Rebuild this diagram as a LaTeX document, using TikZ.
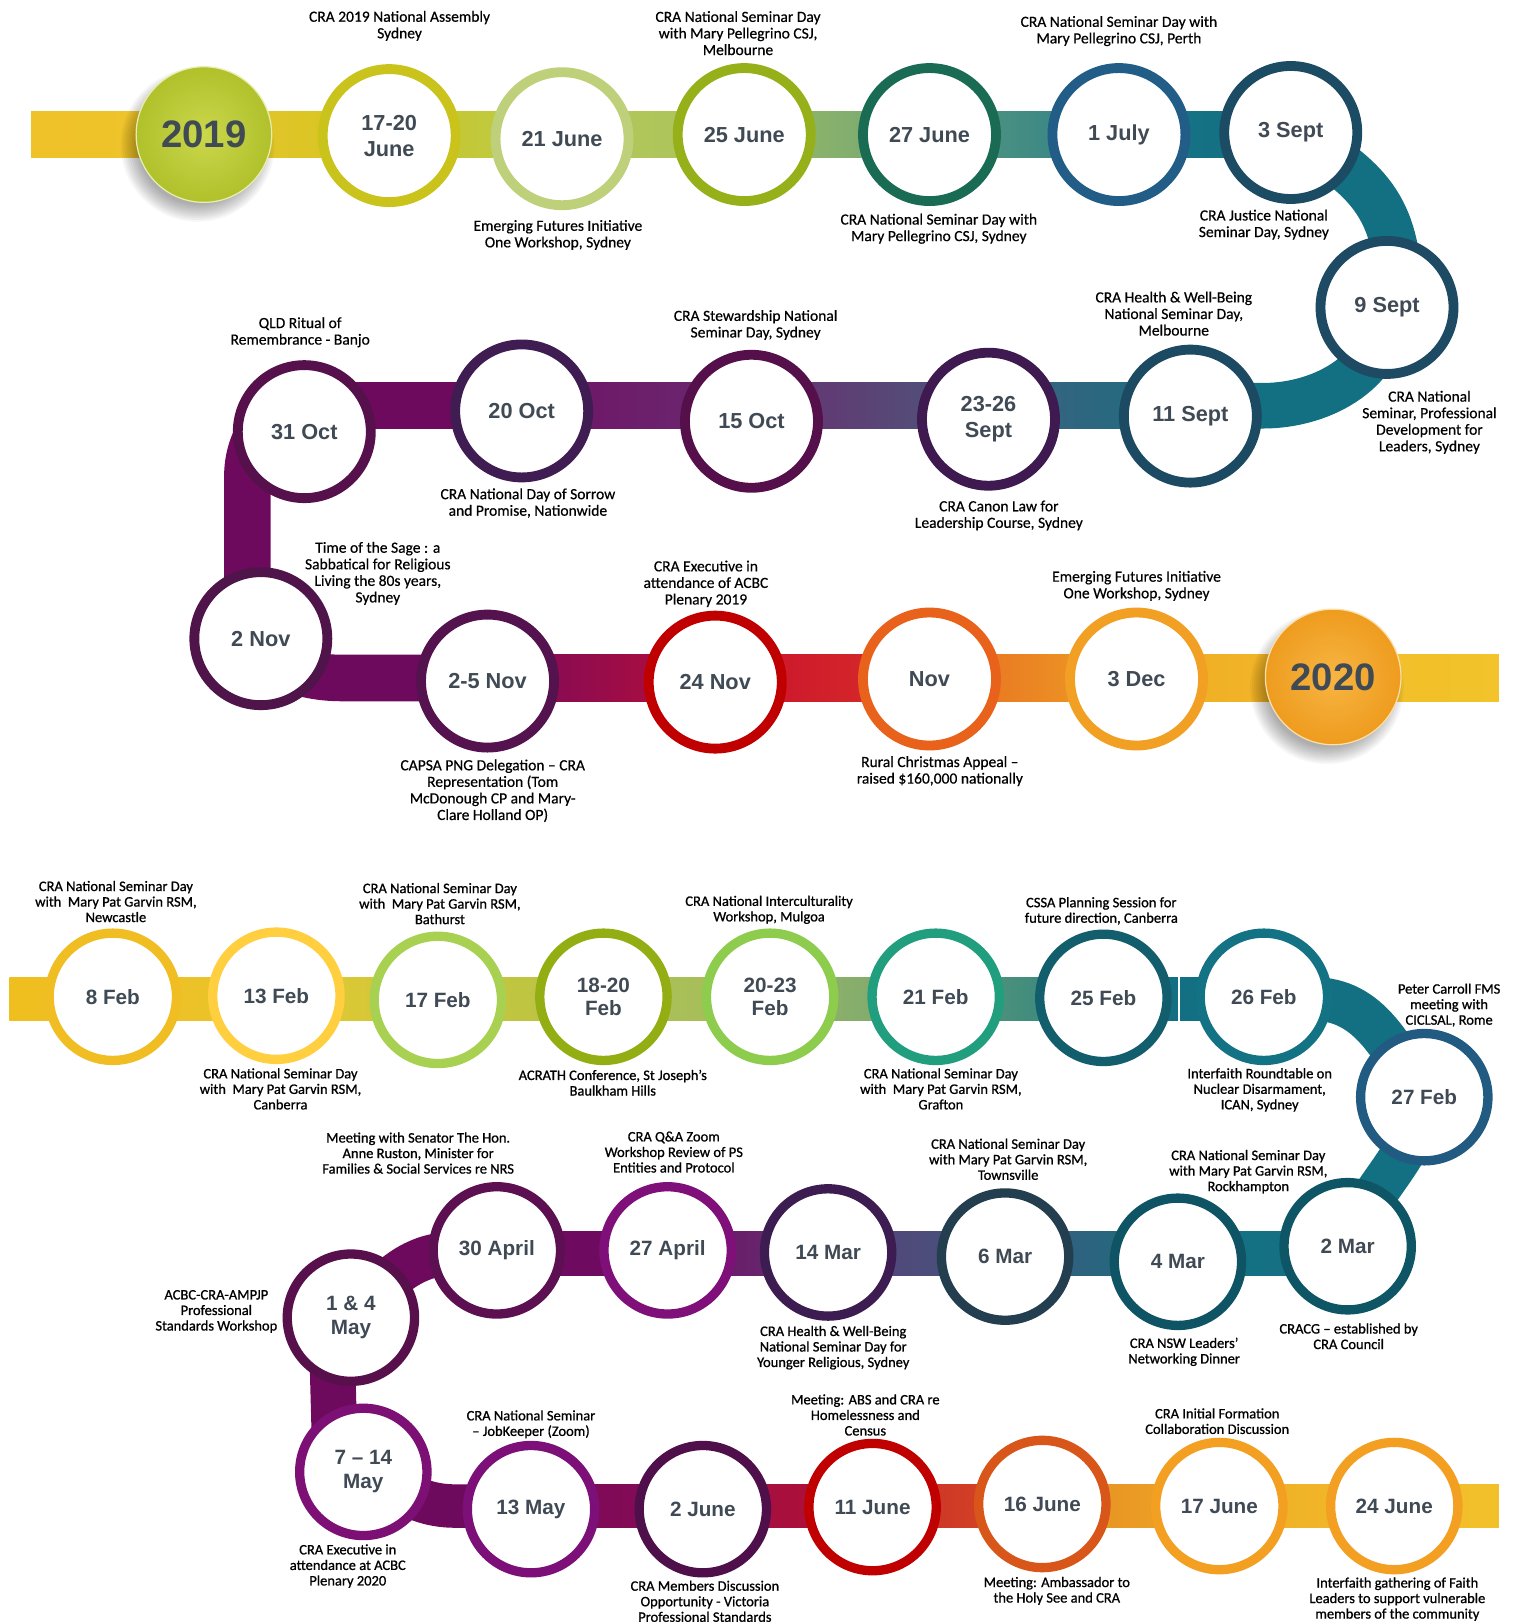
\documentclass[tikz,border=0pt]{standalone}
\usepackage{fontspec}
\usetikzlibrary{calc}
\pgfdeclarelayer{back}
\pgfdeclarelayer{bg}
\pgfsetlayers{back,bg,main}
\newfontfamily\capfam[FakeBold=0.5]{Carlito}
\newfontfamily\capfamb[FakeBold=0.9]{Carlito}
\newfontfamily\datefam{Liberation Sans}
\newcommand\capA{\capfam\fontsize{15}{16}\selectfont}
\newcommand\capB{\capfamb\fontsize{14}{15}\selectfont}
\newcommand\dateA{\datefam\bfseries\fontsize{21}{25}\selectfont}
\newcommand\dateB{\datefam\bfseries\fontsize{20}{23}\selectfont}
\newcommand\yearF{\datefam\bfseries\fontsize{37}{40}\selectfont}
\newcommand\tlseg[6]{\definecolor{tmpL}{HTML}{#4}\definecolor{tmpR}{HTML}{#5}%
  \shade[left color=tmpL,right color=tmpR] ($(#1 |- #3)+(0,#6)$) rectangle ($(#2 |- #3)+(0,-#6)$);}
\definecolor{datecol}{HTML}{404A55}
\definecolor{kyA}{HTML}{CAD74C}
\definecolor{kyB}{HTML}{B0C12B}
\definecolor{kzA}{HTML}{F7B543}
\definecolor{kzB}{HTML}{EE9C1E}
\definecolor{k1720}{HTML}{C9C31B}
\definecolor{k21jun}{HTML}{BED07A}
\definecolor{k25jun}{HTML}{96B01A}
\definecolor{k27jun}{HTML}{1A6B53}
\definecolor{k1jul}{HTML}{215D86}
\definecolor{k3sep}{HTML}{1C4B64}
\definecolor{k9sep}{HTML}{1E4A64}
\definecolor{k11sep}{HTML}{1C4A63}
\definecolor{k2326}{HTML}{3E1A50}
\definecolor{k15oct}{HTML}{55104C}
\definecolor{k20oct}{HTML}{3F1C52}
\definecolor{k31oct}{HTML}{56104C}
\definecolor{k2nov}{HTML}{4F1449}
\definecolor{k25nov}{HTML}{54124E}
\definecolor{k24nov}{HTML}{C00000}
\definecolor{knov}{HTML}{E8621C}
\definecolor{k3dec}{HTML}{F2A023}
\definecolor{k8feb}{HTML}{F0BE22}
\definecolor{k13feb}{HTML}{FFCF3F}
\definecolor{k17feb}{HTML}{A8D152}
\definecolor{k1820}{HTML}{93AE12}
\definecolor{k2023}{HTML}{8ECC4E}
\definecolor{k21feb}{HTML}{219E7E}
\definecolor{k25feb}{HTML}{135E6D}
\definecolor{k26feb}{HTML}{137283}
\definecolor{k27feb}{HTML}{225B82}
\definecolor{k2mar}{HTML}{0E5666}
\definecolor{k4mar}{HTML}{0E5464}
\definecolor{k6mar}{HTML}{233E4F}
\definecolor{k14mar}{HTML}{3D1D51}
\definecolor{k27apr}{HTML}{7F0F79}
\definecolor{k30apr}{HTML}{5D1051}
\definecolor{k14may}{HTML}{57104B}
\definecolor{k714may}{HTML}{7C1074}
\definecolor{k13may}{HTML}{7C1078}
\definecolor{k2jun}{HTML}{4F0F4B}
\definecolor{k11jun}{HTML}{C00000}
\definecolor{k16jun}{HTML}{D9561A}
\definecolor{k17jun}{HTML}{F29F22}
\definecolor{k24jun}{HTML}{F29F22}
\definecolor{tealband}{HTML}{127082}
\definecolor{plumband}{HTML}{6D0A5E}
\begin{document}
\begin{tikzpicture}[x=1pt,y=1pt,
  ev/.style={circle, draw=#1, line width=9.5pt, fill=white, minimum size=128.5pt, inner sep=0pt, align=center, text=datecol, font=\dateA},
  evb/.style={circle, draw=#1, line width=9pt, fill=white, minimum size=123pt, inner sep=0pt, align=center, text=datecol, font=\dateB},
  yr/.style={circle, minimum size=131pt, inner sep=0pt, text=datecol, font=\yearF},
  capt/.style={align=center, inner sep=0pt, font=\capA},
  captb/.style={align=center, inner sep=0pt, font=\capB}]
\useasboundingbox (0,0) rectangle (1463,-1568);
\begin{pgfonlayer}{back}
\fill[white] (0,0) rectangle (1463,-1568);
\end{pgfonlayer}
% row coordinates and free ends
\coordinate (r1) at (0,-130);
\coordinate (r2) at (0,-392);
\coordinate (r3) at (0,-655);
\coordinate (r4) at (0,-965);
\coordinate (r5) at (0,-1211);
\coordinate (r6) at (0,-1455);
\coordinate (start1) at (30,-130);
\coordinate (end3) at (1448,-655);
\coordinate (start4) at (9,-965);
\coordinate (end6) at (1448,-1455);
\coordinate (k1) at (239,-460);
\coordinate (k2) at (239,-595);
\coordinate (k3) at (330,-655);
\coordinate (k4) at (1268,-965);
\coordinate (k5) at (440,-1211);
\coordinate (k6) at (440,-1455);
\coordinate (w1) at (1139,-944);
\coordinate (w2) at (1139,-986);

% ---------- 2019 section nodes ----------
\node[yr, inner color=kyA, outer color=kyB, draw=kyA!45!white, line width=1.2pt] (n2019) at (197,-130) {2019};
\node[ev=k1720] (n1720) at (376,-131) {17-20\\June};
\node[ev=k21jun] (n21jun) at (543,-134) {21 June};
\node[ev=k25jun] (n25jun) at (719,-130) {25 June};
\node[ev=k27jun] (n27jun) at (898,-130) {27 June};
\node[ev=k1jul] (n1jul) at (1081,-130) {1 July};
\node[ev=k3sep] (n3sep) at (1247,-128) {3 Sept};
\node[ev=k9sep] (n9sep) at (1340,-297) {9 Sept};
\node[ev=k11sep] (n11sep) at (1150,-402) {11 Sept};
\node[ev=k2326] (n2326) at (955,-405) {23-26\\Sept};
\node[ev=k15oct] (n15oct) at (726,-407) {15 Oct};
\node[ev=k20oct] (n20oct) at (504,-397) {20 Oct};
\node[ev=k31oct] (n31oct) at (294,-417) {31 Oct};
\node[ev=k2nov] (n2nov) at (252,-617) {2 Nov};
\node[ev=k25nov] (n25nov) at (471,-658) {2-5 Nov};
\node[ev=k24nov] (n24nov) at (691,-659) {24 Nov};
\node[ev=knov] (nnov) at (898,-656) {Nov};
\node[ev=k3dec] (n3dec) at (1098,-656) {3 Dec};
\node[yr, inner color=kzA, outer color=kzB, draw=kzA!45!white, line width=1.2pt] (n2020) at (1288,-654) {2020};

% ---------- 2020 section nodes ----------
\node[evb=k8feb] (n8feb) at (109,-963) {8 Feb};
\node[evb=k13feb] (n13feb) at (267,-962) {13 Feb};
\node[evb=k17feb] (n17feb) at (423,-966) {17 Feb};
\node[evb=k1820] (n1820) at (583,-963) {18-20\\Feb};
\node[evb=k2023] (n2023) at (744,-963) {20-23\\Feb};
\node[evb=k21feb] (n21feb) at (904,-963) {21 Feb};
\node[evb=k25feb] (n25feb) at (1066,-964) {25 Feb};
\node[evb=k26feb] (n26feb) at (1221,-963) {26 Feb};
\node[evb=k27feb] (n27feb) at (1376,-1060) {27 Feb};
\node[evb=k2mar] (n2mar) at (1302,-1204) {2 Mar};
\node[evb=k4mar] (n4mar) at (1138,-1219) {4 Mar};
\node[evb=k6mar] (n6mar) at (971,-1214) {6 Mar};
\node[evb=k14mar] (n14mar) at (800,-1210) {14 Mar};
\node[evb=k27apr] (n27apr) at (645,-1208) {27 April};
\node[evb=k30apr] (n30apr) at (480,-1208) {30 April};
\node[evb=k14may] (n14may) at (339,-1273) {1 \& 4\\May};
\node[evb=k714may] (n714may) at (351,-1422) {7 – 14\\May};
\node[evb=k13may] (n13may) at (513,-1458) {13 May};
\node[evb=k2jun] (n2jun) at (679,-1458) {2 June};
\node[evb=k11jun] (n11jun) at (843,-1456) {11 June};
\node[evb=k16jun] (n16jun) at (1007,-1453) {16 June};
\node[evb=k17jun] (n17jun) at (1178,-1455) {17 June};
\node[evb=k24jun] (n24jun) at (1347,-1455) {24 June};

% ---------- bands (behind) ----------
\begin{pgfonlayer}{bg}
% row 1
\tlseg{start1}{n2019}{r1}{EFC22A}{EDC42B}{22.5}
\tlseg{n2019}{n1720}{r1}{E8C52C}{D3C521}{22.5}
\tlseg{n1720}{n21jun}{r1}{C8C62A}{BCCB4A}{22.5}
\tlseg{n21jun}{n25jun}{r1}{B7C95C}{A6C25A}{22.5}
\tlseg{n25jun}{n27jun}{r1}{9BBB62}{6FA478}{22.5}
\tlseg{n27jun}{n1jul}{r1}{5A9A7F}{2B7E88}{22.5}
\tlseg{n1jul}{n3sep}{r1}{167386}{117081}{22.5}
\draw[tealband, line width=45pt] (n3sep.center) to[out=-30,in=90,looseness=1.2] ($(n9sep.center)+(12,0)$);
\draw[tealband, line width=44pt] (n9sep.center) to[out=-90,in=0] ($(n11sep |- r2)+(70,0)$) -- (n11sep |- r2);
% row 2
\tlseg{n2326}{n11sep}{r2}{3F607E}{1A6E80}{22}
\tlseg{n15oct}{n2326}{r2}{6A2F70}{4A587C}{22}
\tlseg{n20oct}{n15oct}{r2}{6E1366}{6B2A70}{22}
\tlseg{n31oct}{n20oct}{r2}{6D0A5E}{6D0A5E}{22}
\draw[plumband, line width=45pt] (n31oct |- r2) to[out=180,in=90] (k1) -- (k2) to[out=-90,in=180] (k3) -- (n25nov |- r3);
% row 3
\tlseg{n25nov}{n24nov}{r3}{780A5C}{B80E38}{22.5}
\tlseg{n24nov}{nnov}{r3}{C8102E}{DA2F28}{22.5}
\tlseg{nnov}{n3dec}{r3}{E76A20}{EFA226}{22.5}
\tlseg{n3dec}{n2020}{r3}{F0AC25}{F1B828}{22.5}
\tlseg{n2020}{end3}{r3}{F2BE2A}{F2C32A}{22.5}
% row 4
\tlseg{start4}{n8feb}{r4}{EFBF20}{EFC022}{21}
\tlseg{n8feb}{n13feb}{r4}{EEC125}{E9C42C}{21}
\tlseg{n13feb}{n17feb}{r4}{E2C832}{CFC73A}{21}
\tlseg{n17feb}{n1820}{r4}{C7C63C}{B8C346}{21}
\tlseg{n1820}{n2023}{r4}{AEC054}{A3BD5C}{21}
\tlseg{n2023}{n21feb}{r4}{97B567}{77A670}{21}
\tlseg{n21feb}{n25feb}{r4}{5C9A78}{2E8280}{21}
\tlseg{n25feb}{n26feb}{r4}{137082}{137082}{21}
\draw[white, line width=1.5pt] (w1) -- (w2);
\draw[tealband, line width=42pt] (n26feb |- r4) -- (k4) to[out=0,in=125] (n27feb.center);
\draw[tealband, line width=42pt] (n27feb.center) to[out=-100,in=70] (n2mar.center);
% row 5
\tlseg{n4mar}{n2mar}{r5}{157183}{137082}{21}
\tlseg{n6mar}{n4mar}{r5}{3A5B7C}{1C6D80}{21}
\tlseg{n14mar}{n6mar}{r5}{56437A}{44557C}{21}
\tlseg{n27apr}{n14mar}{r5}{6E1266}{62306F}{21}
\tlseg{n30apr}{n27apr}{r5}{6D0A5E}{6F0B62}{21}
\draw[plumband, line width=42pt] (n30apr |- r5) -- (k5) to[out=180,in=45] (n14may.center);
\draw[plumband, line width=44pt] ($(n14may)+(-19,0)$) -- ($(n714may)+(-27,0)$);
\draw[plumband, line width=42pt] (n714may.center) to[out=-25,in=180] (k6) -- (n13may |- r6);
% row 6
\tlseg{n13may}{n2jun}{r6}{780A5C}{8A0A52}{21}
\tlseg{n2jun}{n11jun}{r6}{9A0D48}{B8112F}{21}
\tlseg{n11jun}{n16jun}{r6}{C82A2A}{D84E22}{21}
\tlseg{n16jun}{n17jun}{r6}{E48A24}{EFAA25}{21}
\tlseg{n17jun}{n24jun}{r6}{F0B027}{F1B829}{21}
\tlseg{n24jun}{end6}{r6}{F2BC2A}{F2C12A}{21}
% shadows of the year discs
\foreach \i in {0,...,9}{\fill[black,opacity=0.035] ($(n2019)+(-6,-10)$) circle ({58+1.8*\i});}
\foreach \i in {0,...,9}{\fill[black,opacity=0.035] ($(n2020)+(-6,-10)$) circle ({58+1.8*\i});}
\end{pgfonlayer}

% ---------- captions 2019 ----------
\node[capt] (l1) at (386,-25) {CRA 2019 National Assembly\\Sydney};
\node[capt] (l2) at (539,-227) {Emerging Futures Initiative\\One Workshop, Sydney};
\node[capt] (l3) at (713,-32) {CRA National Seminar Day\\with Mary Pellegrino CSJ,\\Melbourne};
\node[capt] (l4) at (907,-221) {CRA National Seminar Day with\\Mary Pellegrino CSJ, Sydney};
\node[capt] (l5) at (1081,-30) {CRA National Seminar Day with\\Mary Pellegrino CSJ, Perth};
\node[capt] (l6) at (1221,-217) {CRA Justice National\\Seminar Day, Sydney};
\node[capt] (l7) at (1134,-303) {CRA Health \& Well-Being\\National Seminar Day,\\Melbourne};
\node[capt] (l8) at (1381,-408) {CRA National\\Seminar, Professional\\Development for\\Leaders, Sydney};
\node[capt] (l9) at (730,-314) {CRA Stewardship National\\Seminar Day, Sydney};
\node[capt] (l10) at (290,-321) {QLD Ritual of\\Remembrance - Banjo};
\node[capt] (l11) at (510,-486) {CRA National Day of Sorrow\\and Promise, Nationwide};
\node[capt] (l12) at (965,-498) {CRA Canon Law for\\Leadership Course, Sydney};
\node[capt] (l13) at (365,-554) {Time of the Sage : a\\Sabbatical for Religious\\Living the 80s years,\\Sydney};
\node[capt] (l14) at (682,-564) {CRA Executive in\\attendance of ACBC\\Plenary 2019};
\node[capt] (l15) at (1098,-566) {Emerging Futures Initiative\\One Workshop, Sydney};
\node[capt] (l16) at (476,-764) {CAPSA PNG Delegation – CRA\\Representation (Tom\\McDonough CP and Mary-\\Clare Holland OP)};
\node[capt] (l17) at (908,-745) {Rural Christmas Appeal –\\raised \$160,000 nationally};

% ---------- captions 2020 ----------
\node[captb] (m1) at (112,-871) {CRA National Seminar Day\\with~ Mary Pat Garvin RSM,\\Newcastle};
\node[captb] (m2) at (271,-1052) {CRA National Seminar Day\\with~ Mary Pat Garvin RSM,\\Canberra};
\node[captb] (m3) at (425,-873) {CRA National Seminar Day\\with~ Mary Pat Garvin RSM,\\Bathurst};
\node[captb] (m4) at (592,-1046) {ACRATH Conference, St Joseph’s\\Baulkham Hills};
\node[captb] (m5) at (743,-879) {CRA National Interculturality\\Workshop, Mulgoa};
\node[captb] (m6) at (909,-1052) {CRA National Seminar Day\\with~ Mary Pat Garvin RSM,\\Grafton};
\node[captb] (m7) at (1064,-880) {CSSA Planning Session for\\future direction, Canberra};
\node[captb] (m8) at (1217,-1053) {Interfaith Roundtable on\\Nuclear Disarmament,\\ICAN, Sydney};
\node[captb] (m9) at (1400,-971) {Peter Carroll FMS\\meeting with\\CICLSAL, Rome};
\node[captb] (m10) at (404,-1114) {Meeting with Senator The Hon.\\Anne Ruston, Minister for\\Families \& Social Services re NRS};
\node[captb] (m11) at (651,-1113) {CRA Q\&A Zoom\\Workshop Review of PS\\Entities and Protocol};
\node[captb] (m12) at (974,-1120) {CRA National Seminar Day\\with Mary Pat Garvin RSM,\\Townsville};
\node[captb] (m13) at (1206,-1132) {CRA National Seminar Day\\with Mary Pat Garvin RSM,\\Rockhampton};
\node[captb] (m14) at (805,-1302) {CRA Health \& Well-Being\\National Seminar Day for\\Younger Religious, Sydney};
\node[captb] (m15) at (1144,-1306) {CRA NSW Leaders’\\Networking Dinner};
\node[captb] (m16) at (1303,-1291) {CRACG – established by\\CRA Council};
\node[captb] (m17) at (209,-1267) {ACBC-CRA-AMPJP\\Professional\\Standards Workshop};
\node[captb] (m18) at (513,-1376) {CRA National Seminar\\– JobKeeper (Zoom)};
\node[captb] (m19) at (836,-1367) {Meeting: ABS and CRA re\\Homelessness and\\Census};
\node[captb] (m20) at (1176,-1373) {CRA Initial Formation\\Collaboration Discussion};
\node[captb] (m21) at (336,-1513) {CRA Executive in\\attendance at ACBC\\Plenary 2020};
\node[captb] (m22) at (681,-1547) {CRA Members Discussion\\Opportunity - Victoria\\Professional Standards};
\node[captb] (m23) at (1021,-1537) {Meeting: Ambassador to\\the Holy See and CRA};
\node[captb] (m24) at (1350,-1545) {Interfaith gathering of Faith\\Leaders to support vulnerable\\members of the community};
\end{tikzpicture}
\end{document}
